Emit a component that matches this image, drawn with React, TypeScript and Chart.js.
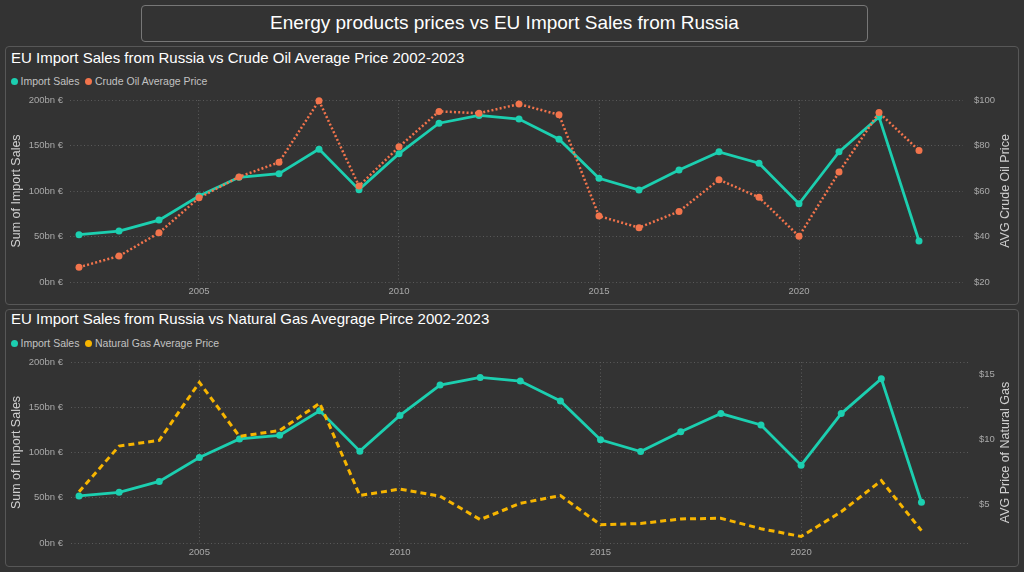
import React, { useEffect, useRef } from 'react';
import { Chart, registerables } from 'chart.js';

Chart.register(...registerables);

// ---------- data ----------
const years = [2002, 2003, 2004, 2005, 2006, 2007, 2008, 2009, 2010, 2011, 2012, 2013, 2014, 2015, 2016, 2017, 2018, 2019, 2020, 2021, 2022, 2023];
const importSales = [52, 56, 68, 94.5, 115, 119, 146, 101.5, 141, 174.5, 183, 179, 157, 114, 101, 123, 143, 130.5, 86, 143, 181.5, 45];
const crudeOilPrice = [26.5, 31.4, 41.6, 57, 66.2, 72.6, 99.7, 62.2, 79.4, 95, 94.2, 98.2, 93.5, 49, 43.9, 51, 65, 57.2, 40.1, 68.3, 94.5, 77.8];
const naturalGasPrice = [6.0, 9.5, 9.95, 14.4, 10.25, 10.7, 12.8, 5.7, 6.2, 5.65, 3.85, 5.1, 5.7, 3.45, 3.55, 3.9, 3.95, 3.15, 2.55, 4.45, 6.85, 3.0];

const yearTicks = [2005, 2010, 2015, 2020];
const salesTicks = [0, 50, 100, 150, 200];
const oilTicks = [20, 40, 60, 80, 100];
const gasTicks = [5, 10, 15];

// ---------- styles ----------
const TEAL = '#1ccfb0';
const ORANGE = '#f2744c';
const GOLD = '#f7b500';
const BG = '#333333';
const GRID = '#5a5a5a';
const TICK = '#a9a9a9';
const FONT = '"Liberation Sans", Arial, sans-serif';

const sideTitles = {
  id: 'sideTitles',
  afterDraw(chart: any, _args: any, opts: any) {
    const { ctx, chartArea } = chart;
    const cy = (chartArea.top + chartArea.bottom) / 2;
    ctx.save();
    ctx.fillStyle = opts.color;
    ctx.font = opts.font;
    ctx.textAlign = 'center';
    ctx.textBaseline = 'middle';
    const items: [number, string][] = [[opts.leftX, opts.left], [opts.rightX, opts.right]];
    for (const [x, text] of items) {
      ctx.save();
      ctx.translate(x, cy);
      ctx.rotate(-Math.PI / 2);
      ctx.fillText(text, 0, 0);
      ctx.restore();
    }
    ctx.restore();
  },
};

type Cfg = {
  secondLabel: string;
  secondValues: number[];
  secondColor: string;
  secondDash: number[];
  secondWidth: number;
  secondPoints: number;
  rightMin: number;
  rightMax: number;
  rightTicks: number[];
  rightTitle: string;
  xMin: number;
  xMax: number;
  leftWidth: number;
  rightWidth: number;
  leftPad: number;
  rightPad: number;
  xHeight: number;
};

const setTicks = (vals: number[]) => (s: any) => {
  s.ticks = vals.map((v) => ({ value: v }));
};

const fixWidth = (w: number) => (s: any) => {
  s.width = w;
  s.paddingTop = 0;
  s.paddingBottom = 0;
};

function makeConfig(c: Cfg): any {
  const tickFont = { family: FONT, size: 9.5 };
  return {
    type: 'line',
    data: {
      datasets: [
        {
          label: 'Import Sales',
          data: years.map((y, i) => ({ x: y, y: importSales[i] })),
          borderColor: TEAL,
          backgroundColor: TEAL,
          borderWidth: 2.8,
          pointRadius: 3.5,
          pointBackgroundColor: TEAL,
          pointBorderWidth: 0,
          yAxisID: 'y',
          order: 2,
          clip: false,
        },
        {
          label: c.secondLabel,
          data: years.map((y, i) => ({ x: y, y: c.secondValues[i] })),
          borderColor: c.secondColor,
          backgroundColor: c.secondColor,
          borderWidth: c.secondWidth,
          borderDash: c.secondDash,
          pointRadius: c.secondPoints,
          pointBackgroundColor: c.secondColor,
          pointBorderWidth: 0,
          yAxisID: 'y1',
          order: 1,
          clip: false,
        },
      ],
    },
    options: {
      responsive: false,
      maintainAspectRatio: false,
      animation: false,
      layout: { padding: { top: 10, left: 0, right: 0, bottom: 0 } },
      plugins: {
        legend: { display: false },
        tooltip: { enabled: false },
        sideTitles: {
          left: 'Sum of Import Sales',
          right: c.rightTitle,
          leftX: 16.5,
          rightX: 1006,
          color: '#cfcfcf',
          font: `12.5px ${FONT}`,
        },
      },
      scales: {
        x: {
          type: 'linear',
          min: c.xMin,
          max: c.xMax,
          afterBuildTicks: setTicks(yearTicks),
          afterFit: (s: any) => { s.height = c.xHeight; },
          ticks: { color: TICK, font: tickFont, padding: 4, maxRotation: 0, autoSkip: false, callback: (v: any) => String(v) },
          grid: { color: GRID, drawTicks: false, lineWidth: 1 },
          border: { display: false, dash: [1, 2.5] },
        },
        y: {
          type: 'linear',
          position: 'left',
          min: 0,
          max: 200,
          afterBuildTicks: setTicks(salesTicks),
          afterFit: fixWidth(c.leftWidth),
          ticks: { color: TICK, font: tickFont, padding: c.leftPad, callback: (v: any) => `${v}bn €` },
          grid: { color: GRID, drawTicks: false, lineWidth: 1 },
          border: { display: false, dash: [1, 2.5] },
        },
        y1: {
          type: 'linear',
          position: 'right',
          min: c.rightMin,
          max: c.rightMax,
          afterBuildTicks: setTicks(c.rightTicks),
          afterFit: fixWidth(c.rightWidth),
          ticks: { color: TICK, font: tickFont, padding: c.rightPad, callback: (v: any) => `$${v}` },
          grid: { display: false, drawTicks: false },
          border: { display: false },
        },
      },
    },
    plugins: [sideTitles],
  };
}

function LineChart({ cfg, top }: { cfg: Cfg; top: number }) {
  const ref = useRef<HTMLCanvasElement>(null);
  useEffect(() => {
    if (!ref.current) return;
    const chart = new Chart(ref.current, makeConfig(cfg));
    return () => chart.destroy();
  }, []);
  return (
    <canvas
      ref={ref}
      width={1024}
      height={212}
      style={{ position: 'absolute', left: 0, top, width: 1024, height: 212 }}
    />
  );
}

function Legend({ top, items }: { top: number; items: [string, string][] }) {
  return (
    <div style={{ position: 'absolute', left: 11, top, height: 12, display: 'flex', alignItems: 'center', fontSize: 10.5, color: '#c2c2c2', whiteSpace: 'nowrap' }}>
      {items.map(([label, color]) => (
        <span key={label} style={{ display: 'flex', alignItems: 'center', marginRight: 6 }}>
          <span style={{ width: 7, height: 7, borderRadius: '50%', background: color, marginRight: 2.5, display: 'inline-block' }} />
          {label}
        </span>
      ))}
    </div>
  );
}

const panelStyle = (top: number, height: number): React.CSSProperties => ({
  position: 'absolute',
  left: 5,
  top,
  width: 1014,
  height,
  border: '1px solid #575757',
  borderRadius: 4,
  boxSizing: 'border-box',
});

const titleStyle = (top: number): React.CSSProperties => ({
  position: 'absolute',
  left: 11,
  top,
  fontSize: 15,
  lineHeight: '18px',
  color: '#ffffff',
  whiteSpace: 'nowrap',
});

const oilCfg: Cfg = {
  secondLabel: 'Crude Oil Average Price',
  secondValues: crudeOilPrice,
  secondColor: ORANGE,
  secondDash: [2, 2.2],
  secondWidth: 2.5,
  secondPoints: 3.5,
  rightMin: 20,
  rightMax: 100,
  rightTicks: oilTicks,
  rightTitle: 'AVG Crude Oil Price',
  xMin: 2001.775,
  xMax: 2024.1,
  leftWidth: 70,
  rightWidth: 61,
  leftPad: 7,
  rightPad: 11,
  xHeight: 20,
};

const gasCfg: Cfg = {
  secondLabel: 'Natural Gas Average Price',
  secondValues: naturalGasPrice,
  secondColor: GOLD,
  secondDash: [6, 4],
  secondWidth: 3,
  secondPoints: 0,
  rightMin: 2.05,
  rightMax: 15.97,
  rightTicks: gasTicks,
  rightTitle: 'AVG Price of Natural Gas',
  xMin: 2001.8,
  xMax: 2024.21,
  leftWidth: 71,
  rightWidth: 54,
  leftPad: 8,
  rightPad: 9,
  xHeight: 21,
};

export default function App() {
  return (
    <div style={{ position: 'fixed', left: 0, top: 0, width: 1024, height: 572, background: BG, fontFamily: FONT, overflow: 'hidden' }}>
      <div
        style={{
          position: 'absolute', left: 141, top: 5, width: 727, height: 37,
          border: '1px solid #777777', borderRadius: 4, boxSizing: 'border-box',
          display: 'flex', alignItems: 'center', justifyContent: 'center',
          color: '#ffffff', fontSize: 19, paddingBottom: 2,
        }}
      >
        Energy products prices vs EU Import Sales from Russia
      </div>

      <div style={panelStyle(46, 259)} />
      <div style={titleStyle(49)}>EU Import Sales from Russia vs Crude Oil Average Price 2002-2023</div>
      <Legend top={75} items={[['Import Sales', TEAL], ['Crude Oil Average Price', ORANGE]]} />
      <LineChart cfg={oilCfg} top={90} />

      <div style={panelStyle(309, 258)} />
      <div style={titleStyle(310)}>EU Import Sales from Russia vs Natural Gas Avegrage Pirce 2002-2023</div>
      <Legend top={337} items={[['Import Sales', TEAL], ['Natural Gas Average Price', GOLD]]} />
      <LineChart cfg={gasCfg} top={352} />
    </div>
  );
}
